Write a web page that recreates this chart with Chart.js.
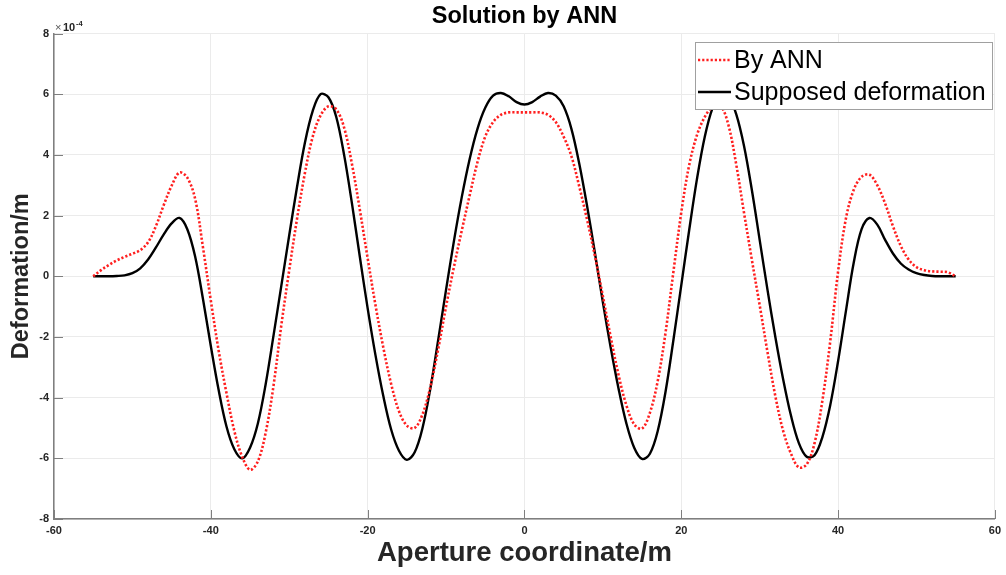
<!DOCTYPE html>
<html>
<head>
<meta charset="utf-8">
<title>Solution by ANN</title>
<script src="https://cdn.jsdelivr.net/npm/chart.js@4.4.1/dist/chart.umd.min.js"></script>
<style>
  html, body { margin: 0; padding: 0; background: #fff; }
  #wrap { width: 1006px; height: 575px; }
</style>
</head>
<body>
<div id="wrap"><canvas id="chart" width="1006" height="575"></canvas></div>
<script>
// aperture coordinate (m)
const apertureX = [
  -55, -54, -53, -52, -51, -50, -49, -48, -47, -46, -45, -44, -43, -42, -41, -40,
  -39, -38, -37, -36, -35, -34, -33, -32, -31, -30, -29, -28, -27, -26, -25, -24,
  -23, -22, -21, -20, -19, -18, -17, -16, -15, -14, -13, -12, -11, -10, -9, -8,
  -7, -6, -5, -4, -3, -2, -1, 0, 1, 2, 3, 4, 5, 6, 7, 8,
  9, 10, 11, 12, 13, 14, 15, 16, 17, 18, 19, 20, 21, 22, 23, 24,
  25, 26, 27, 28, 29, 30, 31, 32, 33, 34, 35, 36, 37, 38, 39, 40,
  41, 42, 43, 44, 45, 46, 47, 48, 49, 50, 51, 52, 53, 54, 55
];

// deformation, in units of 1e-4 m
const byAnn = [
  0, 0.2, 0.37, 0.52, 0.64, 0.74, 0.86, 1.12, 1.65, 2.35, 2.98, 3.42, 3.25, 2.55, 0.95, -0.8,
  -2.45, -3.85, -5.1, -5.95, -6.38, -6.1, -5.15, -3.6, -1.6, 0.2, 1.9, 3.4, 4.6, 5.3, 5.6, 5.5,
  4.9, 3.7, 2.2, 0.6, -0.95, -2.35, -3.55, -4.45, -4.92, -5.0, -4.55, -3.65, -2.4, -1.0, 0.3, 1.5,
  2.65, 3.75, 4.6, 5.08, 5.32, 5.4, 5.4, 5.4, 5.4, 5.4, 5.32, 5.08, 4.6, 3.95, 2.95, 1.85,
  0.65, -0.65, -2.0, -3.25, -4.25, -4.88, -5.02, -4.5, -3.45, -1.85, 0.15, 2.1, 3.65, 4.65, 5.25, 5.58,
  5.62, 5.0, 3.7, 2.1, 0.55, -0.95, -2.5, -3.95, -5.1, -5.85, -6.3, -6.2, -5.5, -4.1, -2.15, 0.15,
  1.9, 2.85, 3.28, 3.35, 3.0, 2.4, 1.65, 1.0, 0.55, 0.3, 0.2, 0.16, 0.15, 0.13, 0
];

const supposed = [
  0, 0, 0, 0.01, 0.03, 0.1, 0.26, 0.55, 0.95, 1.38, 1.74, 1.92, 1.55, 0.65, -0.75, -2.3,
  -3.75, -4.95, -5.7, -6.0, -5.65, -4.85, -3.55, -1.95, -0.3, 1.35, 2.95, 4.4, 5.45, 6.0, 5.9, 5.25,
  4.0, 2.4, 0.65, -1.05, -2.6, -3.95, -5.05, -5.75, -6.05, -5.8, -5.0, -3.7, -2.1, -0.45, 1.15, 2.6,
  3.85, 4.85, 5.55, 5.95, 6.04, 5.93, 5.74, 5.66, 5.74, 5.92, 6.04, 5.95, 5.6, 4.85, 3.7, 2.3,
  0.75, -0.85, -2.35, -3.7, -4.85, -5.65, -6.02, -5.85, -5.1, -3.8, -2.1, -0.3, 1.5, 3.2, 4.6, 5.55,
  6.0, 5.95, 5.35, 4.3, 2.85, 1.2, -0.45, -2.0, -3.4, -4.6, -5.5, -5.95, -5.9, -5.3, -4.25, -2.8,
  -1.15, 0.45, 1.55, 1.92, 1.7, 1.2, 0.75, 0.42, 0.22, 0.1, 0.04, 0.01, 0, 0, 0
];

const xTicks = [-60, -40, -20, 0, 20, 40, 60];
const yTicks = [-8, -6, -4, -2, 0, 2, 4, 6, 8];

const FONT = '"Liberation Sans", Arial, Helvetica, sans-serif';
const AXIS_GRAY = '#7f7f7f';

// titles, inward tick marks, exponent and the boxed legend, drawn like the MATLAB figure
const figureDecor = {
  id: 'figureDecor',
  afterDraw(chart) {
    const c = chart.ctx;
    const area = chart.chartArea;
    const xs = chart.scales.x, ys = chart.scales.y;
    c.save();

    // inward tick marks
    c.strokeStyle = AXIS_GRAY;
    c.lineWidth = 1;
    c.beginPath();
    xTicks.forEach(v => {
      const px = Math.round(xs.getPixelForValue(v)) + 0.5;
      c.moveTo(px, area.bottom);
      c.lineTo(px, area.bottom - 9);
    });
    yTicks.forEach(v => {
      const py = Math.round(ys.getPixelForValue(v)) + 0.5;
      c.moveTo(area.left, py);
      c.lineTo(area.left + 9, py);
    });
    c.stroke();

    // title
    c.fillStyle = '#000';
    c.textAlign = 'center';
    c.textBaseline = 'middle';
    c.font = 'bold 23.5px ' + FONT;
    c.fillText('Solution by ANN', (area.left + area.right) / 2, 17);

    // axis titles
    c.fillStyle = '#262626';
    c.font = 'bold 27.5px ' + FONT;
    c.fillText('Aperture coordinate/m', (area.left + area.right) / 2, 553);
    c.save();
    c.translate(22, (area.top + area.bottom) / 2);
    c.rotate(-Math.PI / 2);
    c.font = 'bold 23.5px ' + FONT;
    c.fillText('Deformation/m', 0, 0);
    c.restore();

    // exponent label
    c.textAlign = 'left';
    c.textBaseline = 'alphabetic';
    c.fillStyle = '#555';
    c.font = '11px ' + FONT;
    c.fillText('\u00d7', 55, 31);
    c.fillStyle = '#262626';
    c.font = 'bold 11px ' + FONT;
    c.fillText('10', 63, 31);
    c.font = 'bold 7.5px ' + FONT;
    c.fillText('-4', 76, 25.5);

    // legend box
    const bx = 695.5, by = 42.5, bw = 297, bh = 67;
    c.fillStyle = '#fff';
    c.fillRect(bx, by, bw, bh);
    c.strokeStyle = '#a0a0a0';
    c.lineWidth = 1;
    c.strokeRect(bx, by, bw, bh);
    const rows = [60, 92];
    chart.data.datasets.forEach((ds, i) => {
      const y = rows[i];
      c.strokeStyle = ds.borderColor;
      c.lineWidth = ds.borderWidth;
      c.setLineDash(ds.borderDash || []);
      c.beginPath();
      c.moveTo(698, y);
      c.lineTo(731, y);
      c.stroke();
      c.setLineDash([]);
      c.fillStyle = '#000';
      c.font = '25px ' + FONT;
      c.textBaseline = 'middle';
      c.fillText(ds.label, 734, y + 1);
    });
    c.restore();
  }
};

const tickFont = { family: FONT, size: 11, weight: 'bold' };

new Chart(document.getElementById('chart'), {
  type: 'line',
  data: {
    datasets: [
      {
        label: 'By ANN',
        data: apertureX.map((x, i) => ({ x: x, y: byAnn[i] })),
        borderColor: '#ff1f1f',
        borderWidth: 2.6,
        borderDash: [2.2, 2],
        pointRadius: 0,
        tension: 0.35,
        fill: false
      },
      {
        label: 'Supposed deformation',
        data: apertureX.map((x, i) => ({ x: x, y: supposed[i] })),
        borderColor: '#000000',
        borderWidth: 2.4,
        pointRadius: 0,
        tension: 0.35,
        fill: false
      }
    ]
  },
  options: {
    responsive: false,
    animation: false,
    devicePixelRatio: 1,
    layout: { padding: { left: 0, top: 33.5, right: 5, bottom: 0 } },
    plugins: {
      legend: { display: false },
      tooltip: { enabled: false },
      title: { display: false }
    },
    scales: {
      x: {
        type: 'linear',
        min: -60,
        max: 60,
        afterBuildTicks: s => { s.ticks = xTicks.map(v => ({ value: v })); },
        afterFit: s => { s.height = 56; },
        ticks: { font: tickFont, color: '#262626', padding: 5, maxRotation: 0 },
        grid: { color: '#ebebeb', lineWidth: 1, drawTicks: false },
        border: { color: AXIS_GRAY, width: 1.5 }
      },
      y: {
        type: 'linear',
        min: -8,
        max: 8,
        afterBuildTicks: s => { s.ticks = yTicks.map(v => ({ value: v })); },
        afterFit: s => { s.width = 54; },
        ticks: { font: tickFont, color: '#262626', padding: 5 },
        grid: { color: '#ebebeb', lineWidth: 1, drawTicks: false },
        border: { color: AXIS_GRAY, width: 1.5 }
      }
    }
  },
  plugins: [figureDecor]
});
</script>
</body>
</html>
